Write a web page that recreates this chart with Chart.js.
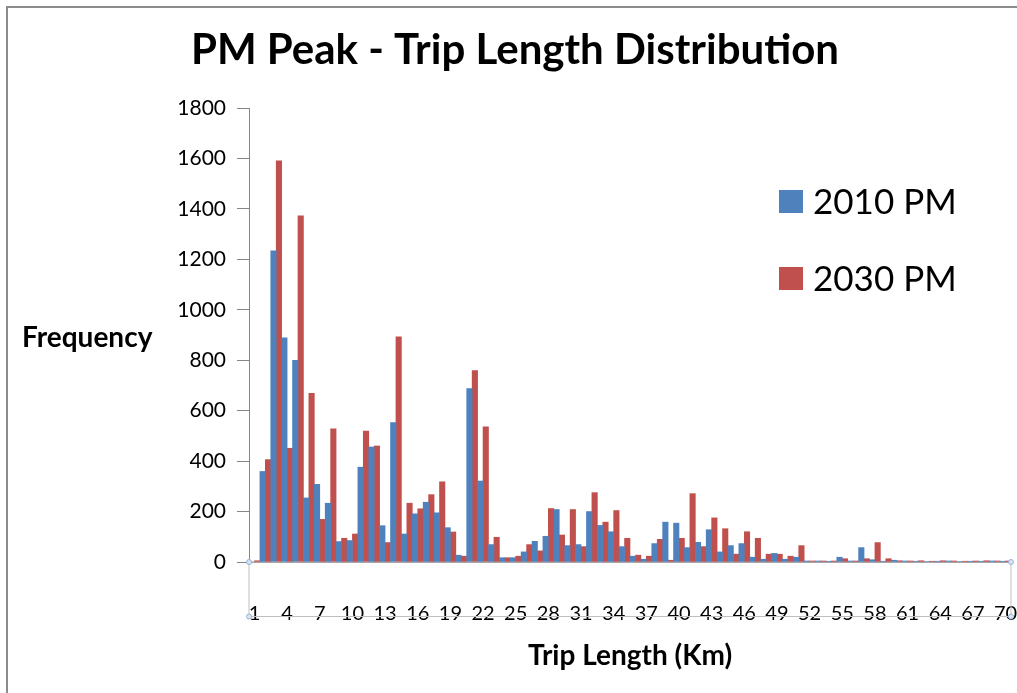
<!DOCTYPE html>
<html>
<head>
<meta charset="utf-8">
<title>PM Peak - Trip Length Distribution</title>
<script src="https://cdn.jsdelivr.net/npm/chart.js@4.4.1/dist/chart.umd.min.js"></script>
<style>
  body { margin: 0; background: #fff; }
  #wrap { width: 1017px; height: 693px; }
</style>
</head>
<body>
<div id="wrap"><canvas id="chart" width="1017" height="693"></canvas></div>
<script>
// trip length categories (km)
const tripLengths = [
  "1","2","3","4","5","6","7","8","9","10",
  "11","12","13","14","15","16","17","18","19","20",
  "21","22","23","24","25","26","27","28","29","30",
  "31","32","33","34","35","36","37","38","39","40",
  "41","42","43","44","45","46","47","48","49","50",
  "51","52","53","54","55","56","57","58","59","60",
  "61","62","63","64","65","66","67","68","69","70"
];

const pm2010 = [
  0, 359, 1234, 889, 800, 254, 308, 233, 81, 85,
  376, 456, 144, 553, 111, 191, 237, 195, 136, 27,
  688, 321, 69, 17, 17, 40, 82, 102, 208, 65,
  69, 200, 145, 120, 61, 23, 11, 73, 158, 154,
  57, 78, 128, 40, 65, 73, 19, 11, 34, 11,
  19, 4, 4, 3, 19, 4, 57, 9, 3, 7,
  4, 3, 2, 3, 4, 2, 3, 3, 4, 3
];

const pm2030 = [
  5, 406, 1591, 451, 1372, 669, 169, 528, 94, 111,
  519, 460, 77, 893, 233, 211, 267, 318, 119, 23,
  759, 536, 98, 17, 23, 69, 44, 212, 107, 208,
  61, 275, 158, 204, 94, 27, 23, 90, 7, 94,
  271, 61, 175, 132, 31, 120, 94, 31, 31, 23,
  65, 4, 4, 4, 13, 4, 13, 77, 13, 5,
  4, 5, 3, 5, 4, 3, 4, 5, 4, 4
];

const seriesNames = ["2010 PM", "2030 PM"];
const seriesColors = ["#4F81BD", "#C0504D"];
const yTicks = [0, 200, 400, 600, 800, 1000, 1200, 1400, 1600, 1800];

const FONT = "Lato, 'Open Sans', sans-serif";

// title, axis titles, legend and the excel-ish frame
const decorations = {
  id: "decorations",
  beforeDraw(chart) {
    const ctx = chart.ctx;
    ctx.save();
    ctx.strokeStyle = "#8c8c8c";
    ctx.lineWidth = 2;
    ctx.beginPath();
    ctx.moveTo(7, 693);
    ctx.lineTo(7, 7);
    ctx.lineTo(1017, 7);
    ctx.stroke();
    ctx.restore();
  },
  afterDraw(chart) {
    const ctx = chart.ctx;
    const a = chart.chartArea;
    ctx.save();

    // box around the category labels
    ctx.strokeStyle = "#bfbfbf";
    ctx.lineWidth = 1;
    ctx.beginPath();
    ctx.moveTo(a.left, a.bottom);
    ctx.lineTo(a.left, 616.5);
    ctx.lineTo(a.right, 616.5);
    ctx.lineTo(a.right, a.bottom);
    ctx.stroke();
    [[a.left, a.bottom], [a.right, a.bottom], [a.left, 616.5], [a.right, 616.5]].forEach(p => {
      ctx.beginPath();
      ctx.arc(p[0], p[1], 2.5, 0, Math.PI * 2);
      ctx.fillStyle = "#dbe5f1";
      ctx.fill();
      ctx.strokeStyle = "#95b3d7";
      ctx.stroke();
    });

    ctx.fillStyle = "#000";
    ctx.textBaseline = "alphabetic";

    ctx.font = "bold 42px " + FONT;
    ctx.textAlign = "center";
    ctx.fillText("PM Peak - Trip Length Distribution", 515, 64);

    ctx.font = "bold 28px " + FONT;
    ctx.textAlign = "left";
    ctx.fillText("Frequency", 22, 347);
    ctx.textAlign = "center";
    ctx.fillText("Trip Length (Km)", 630, 665);

    // legend
    ctx.textAlign = "left";
    ctx.font = "35px " + FONT;
    chart.data.datasets.forEach((ds, i) => {
      const y = 190 + i * 77;
      ctx.fillStyle = ds.backgroundColor;
      ctx.fillRect(779, y, 24, 23);
      ctx.fillStyle = "#000";
      ctx.fillText(ds.label, 813, y + 24);
    });

    ctx.restore();
  }
};

new Chart(document.getElementById("chart"), {
  type: "bar",
  data: {
    labels: tripLengths,
    datasets: [
      { label: seriesNames[0], data: pm2010, backgroundColor: seriesColors[0] },
      { label: seriesNames[1], data: pm2030, backgroundColor: seriesColors[1] }
    ]
  },
  options: {
    responsive: false,
    animation: false,
    layout: { padding: { top: 108, right: 6, left: 0, bottom: 0 } },
    datasets: {
      bar: { categoryPercentage: 1.0, barPercentage: 1.0, borderWidth: 0 }
    },
    plugins: {
      legend: { display: false },
      title: { display: false },
      tooltip: { enabled: false }
    },
    scales: {
      x: {
        grid: { display: false },
        border: { color: "#a6a6a6", width: 1 },
        ticks: {
          autoSkip: false,
          maxRotation: 0,
          padding: 32,
          color: "#000",
          font: { family: FONT, size: 20 },
          callback: function (val, index) {
            return index % 3 === 0 ? this.getLabelForValue(val) : "";
          }
        },
        afterFit: scale => {
          scale.height = 131;
          scale.paddingLeft = 0;
          scale.paddingRight = 0;
        }
      },
      y: {
        min: 0,
        max: 1800,
        afterBuildTicks: scale => { scale.ticks = yTicks.map(v => ({ value: v })); },
        grid: {
          drawOnChartArea: false,
          drawTicks: true,
          tickLength: 12,
          color: "#868686"
        },
        border: { color: "#868686", width: 1 },
        ticks: {
          padding: 11,
          color: "#000",
          font: { family: FONT, size: 21 },
          callback: v => String(v)
        },
        afterFit: scale => { scale.width = 249; }
      }
    }
  },
  plugins: [decorations]
});
</script>
</body>
</html>
